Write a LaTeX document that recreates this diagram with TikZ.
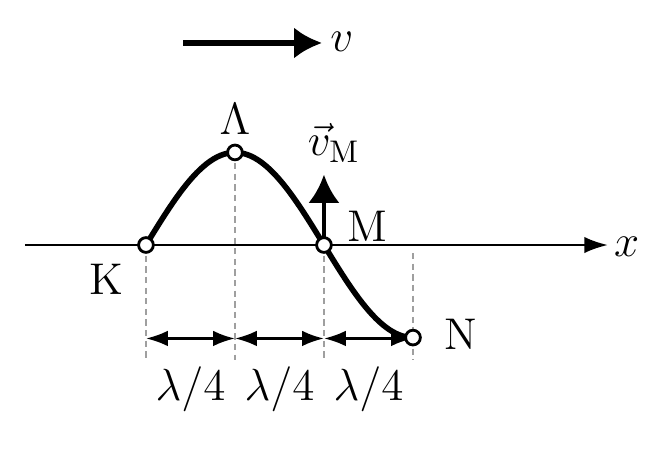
\documentclass[tikz,border=0pt]{standalone}
\usepackage{amsmath}
\usepackage{tikz}
\usetikzlibrary{arrows.meta}

\tikzset{
	wave/.style={line width=1.8pt},
	guide/.style={gray!75, line width=0.5pt, dash pattern=on 2pt off 1.4pt},
	bigarrow/.style={line width=1.7pt, -{Latex[length=9pt,width=10pt]}},
	dimarrow/.style={line width=0.8pt, {Latex[length=7pt,width=5pt]}-{Latex[length=7pt,width=5pt]}},
	dot/.style={draw=black, fill=white, line width=0.9pt}
}

\begin{document}
\begin{tikzpicture}[font=\fontsize{14.2}{17}\selectfont]
				\useasboundingbox (-1.640,-2.494) rectangle (5.652,2.753);
				\coordinate (K) at (0,0);
				\coordinate (L) at (1,1.04);
				\coordinate (M) at (2,0);
				\coordinate (N) at (3,-1.04);
				\coordinate (low) at (0,-1.29);
				\coordinate (dim) at (0,-1.05);
				\coordinate (Ntop) at (3,-0.09);
				\coordinate (xa) at (-1.36,0);
				\coordinate (xb) at (5.19,0);
				\coordinate (va) at (0.42,2.27);
				\coordinate (vb) at (1.98,2.27);
				\coordinate (vM) at (2,0.79);
				\foreach \p in {K,L,M} {
					\draw[guide] (\p) -- (\p |- low);
				}
				\draw[guide] (Ntop) -- (Ntop |- low);
				\foreach \p/\q in {K/L,L/M,M/N} {
					\draw[dimarrow] (\p |- dim) -- (\q |- dim);
				}
				\foreach \i in {0.5,1.5,2.5} {
					\node (lab\i) at (\i,-1.62) {$\lambda/4$};
				}
				\draw[line width=0.75pt, -{Latex[length=7.5pt,width=5.2pt]}] (xa) -- (xb);
				\node (xl) at (5.40,-0.02) {$x$};
				\draw[wave] plot[domain=0:3, samples=80] (\x, {1.04*sin(90*\x)});
				\draw[bigarrow, line width=1.5pt] (M) -- (vM);
				\node (vMl) at (2.11,1.15) {$\vec{v}_{\mathrm{M}}$};
				\draw[bigarrow] (va) -- (vb);
				\node (vl) at (2.20,2.28) {$v$};
				\foreach \p in {K,L,M,N} {
					\draw[dot] (\p) circle (0.083);
				}
				\node (Kl) at (-0.44,-0.38) {K};
				\node (Ll) at (1,1.42) {$\Lambda$};
				\node (Ml) at (2.49,0.21) {M};
				\node (Nl) at (3.54,-1.0) {N};
			\end{tikzpicture}
\end{document}
